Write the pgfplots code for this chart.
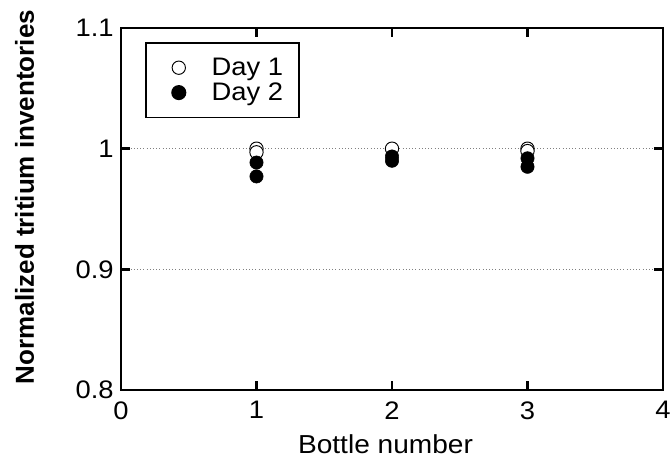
\documentclass[border=0pt]{standalone}
\usepackage{pgfplots}
\pgfplotsset{compat=1.18}
\usepackage{fontspec}
\setmainfont[FakeStretch=1.08]{Liberation Sans}
\newfontfamily\plainsans{Liberation Sans}
\begin{document}
\begin{tikzpicture}
\begin{axis}[
    at={(0pt,0pt)}, anchor=south west,
    scale only axis,
    width=406.5pt, height=271.5pt,
    xmin=0, xmax=4, ymin=0.8, ymax=1.1,
    xtick={0,1,2,3,4}, ytick={0.8,0.9,1,1.1},
    yticklabels={0.8,0.9,1,1.1},
    /pgf/number format/assume math mode=true,
    tick label style={font=\fontsize{19}{22}\selectfont},
    xticklabel style={yshift=-5pt},
    yticklabel style={xshift=-2pt},
    xlabel={Bottle number},
    ylabel={\plainsans\bfseries Normalized tritium inventories},
    label style={font=\fontsize{19.5}{22}\selectfont},
    xlabel style={at={(axis description cs:0.488,-0.176)}, anchor=base},
    ylabel style={at={(axis description cs:-0.178,0.533)}, anchor=center, rotate=0},
    axis line style={line width=2.2pt},
    tick style={line width=2pt, black},
    major tick length=7pt,
    tick align=inside,
    xtick pos=both, ytick pos=both,
    ymajorgrids=true,
    grid style={dotted, gray, line width=0.9pt},
    legend style={at={(axis description cs:0.0443,0.961)}, anchor=north west,
        draw=black, line width=1.3pt,
        font=\fontsize{19}{21.5}\selectfont, inner xsep=10pt, inner ysep=9.25pt,
        column sep=13.5pt},
    legend image code/.code={%
        \path (-5.5pt,0pt) (0.6cm,0pt);
        \draw[mark repeat=2,mark phase=2,#1] plot coordinates {(0cm,0cm) (0.3cm,0cm) (0.6cm,0cm)};},
    legend cell align=left,
]
\addplot[only marks, mark=*, mark size=5pt, mark options={fill=white, draw=black, line width=0.7pt}]
    coordinates {(1,1.000) (1,0.997) (2,1.000) (3,1.000) (3,0.998)};
\addlegendentry{Day 1}
\addplot[only marks, mark=*, mark size=5pt, mark options={fill=black, draw=black}]
    coordinates {(1,0.9885) (1,0.977) (2,0.9935) (2,0.990) (3,0.992) (3,0.985)};
\addlegendentry{Day 2}
\end{axis}
\pgfresetboundingbox
\path[use as bounding box] (-90.75pt,-51pt) rectangle (411.75pt,292.5pt);
\end{tikzpicture}
\end{document}
